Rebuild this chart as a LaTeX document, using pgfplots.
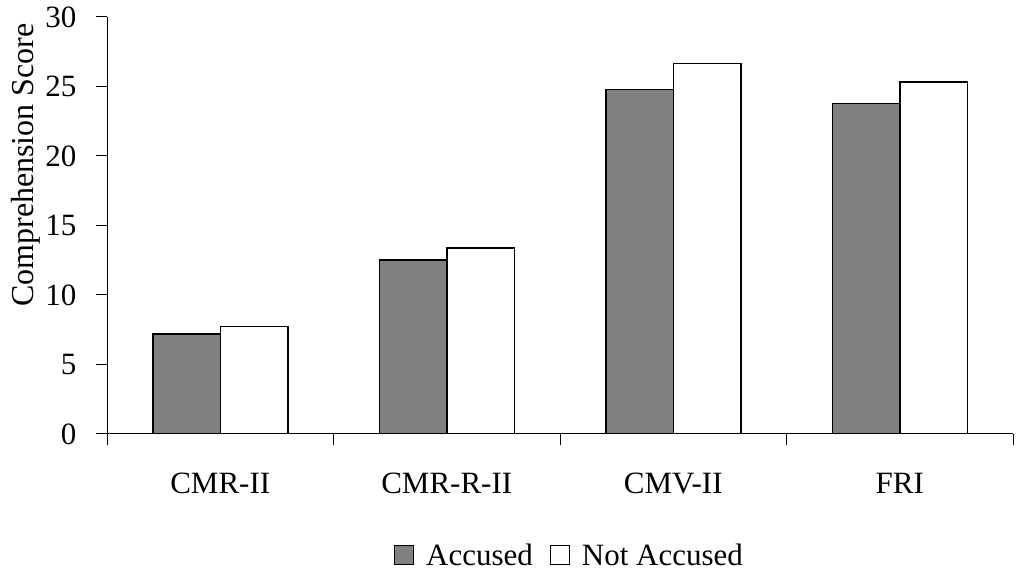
\documentclass[border=0pt]{standalone}
\usepackage{pgfplots}
\pgfplotsset{compat=1.18}
\usepackage{fontspec}
\setmainfont{Liberation Serif}

\definecolor{accgray}{HTML}{808080}

\begin{document}
\fontsize{31bp}{37bp}\selectfont
\begin{tikzpicture}
\path[use as bounding box] (0,0) rectangle (1026bp,575bp);
\begin{axis}[
  at={(107bp,141bp)}, anchor=south west,
  scale only axis,
  width=906bp, height=417bp,
  xmin=-0.5, xmax=3.5,
  ymin=0, ymax=30,
  axis x line=bottom, axis y line=left,
  axis line style={-, line width=1bp},
  ytick={0,5,...,30},
  xtick={0,1,2,3},
  xticklabels={CMR-II,CMR-R-II,CMV-II,FRI},
  minor xtick={-0.5,0.5,1.5,2.5,3.5},
  major x tick style={draw=none},
  minor tick length=11bp,
  major tick length=11bp,
  tick align=outside,
  tick style={line width=1bp, black},
  /pgf/number format/assume math mode=true,
  ticklabel style={font=\fontsize{31bp}{37bp}\selectfont},
  xticklabel style={anchor=base, yshift=-48bp},
  yticklabel style={xshift=-9bp},
  ylabel={Comprehension Score},
  ylabel style={at={(axis description cs:-0.09,0.645)}, anchor=center,
    font=\fontsize{32bp}{38bp}\selectfont},
  ybar=0pt,
  bar width=67.5bp,
  area legend,
  legend image code/.code={\draw[#1, line width=1bp] (0bp,-7bp) rectangle (19bp,12bp);},
  legend style={at={(axis description cs:0.5105,-0.295)}, anchor=center,
    draw=none, fill=none, legend columns=-1,
    font=\fontsize{31bp}{37bp}\selectfont,
    /tikz/every even column/.append style={column sep=15bp},
    /tikz/every odd column/.append style={column sep=10bp},
    inner sep=0pt},
]
\addplot[fill=accgray, draw=black, line width=1.5bp] coordinates {(0,7.2) (1,12.5) (2,24.77) (3,23.78)};
\addplot[fill=white, draw=black, line width=1.5bp] coordinates {(0,7.75) (1,13.37) (2,26.64) (3,25.32)};
\legend{Accused,Not Accused}
\end{axis}
\end{tikzpicture}
\end{document}
